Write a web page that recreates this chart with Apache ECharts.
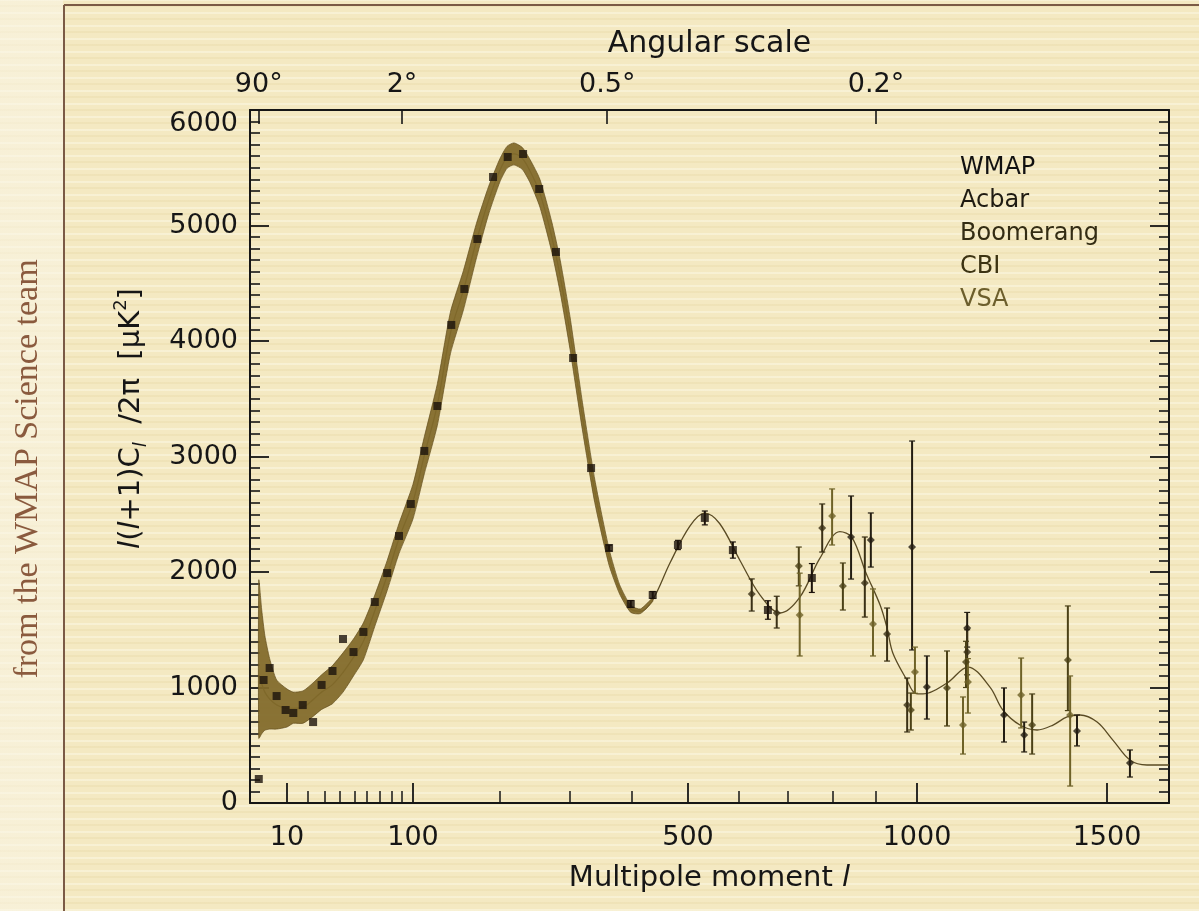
<!DOCTYPE html>
<html><head><meta charset="utf-8">
<script src="https://cdn.jsdelivr.net/npm/echarts@6/dist/echarts.min.js"></script>
<style>
html,body{margin:0;padding:0;width:1199px;height:911px;overflow:hidden;}
body{
 background-color:#f4e9c2;
 background-image:
  linear-gradient(to right, rgba(250,246,232,0.55) 0, rgba(250,246,232,0.55) 63px, transparent 63px),
  repeating-linear-gradient(0deg, rgba(255,255,245,0.35) 0px, rgba(255,255,245,0.35) 2px, transparent 2px, transparent 7px, rgba(215,195,130,0.16) 7px, rgba(215,195,130,0.16) 9px, transparent 9px, transparent 13px);
}
#chart{width:1199px;height:911px;}
</style></head><body><div id="chart"></div><script>
// ---------- data ----------
const majorTickL = [10, 100, 500, 1000, 1500];
const minorTickL = [20, 30, 40, 50, 60, 70, 80, 90, 200, 300, 400, 600, 700, 800, 900];
const angleTickDeg = [90, 2, 0.5, 0.2];
const angleTickLabels = ['90°', '2°', '0.5°', '0.2°'];

// theory curve (multipole l, D_l in uK^2)
const curveL = [2, 2.6, 3.3, 4.5, 6.5, 10, 13, 17.6, 23, 28, 35, 42, 49, 57, 66, 76, 87, 100, 113, 128, 143, 158, 173, 187, 200, 210, 220, 232, 243, 257, 274, 286, 300, 320, 340, 363, 380, 398, 415, 437,
  468, 504, 533, 562, 602, 643, 684, 726, 771, 816, 844, 877, 910, 927, 941, 976, 995, 1016, 1079, 1134, 1192, 1226, 1271, 1316, 1358, 1395, 1429, 1474, 1519, 1574, 1629, 1700];
const curveD = [1100, 1030, 960, 900, 850, 820, 820, 830, 895, 960, 1025, 1130, 1260, 1400, 1665, 1970, 2290, 2610, 3010, 3450, 4069, 4440, 4870, 5220, 5480, 5590, 5620, 5580, 5470, 5280, 4900, 4560, 4069, 3350, 2700, 2130, 1850, 1680, 1660, 1760,
  2080, 2400, 2510, 2420, 2100, 1800, 1645, 1780, 2120, 2350, 2300, 1990, 1714, 1515, 1299, 1060, 952, 944, 1039, 1177, 1004, 805, 675, 632, 675, 745, 762, 701, 545, 372, 329, 329];

// cosmic variance band
const bandL = [2, 2.6, 3.3, 4.5, 6.5, 10, 13, 17.6, 23, 28, 35, 42, 49, 57, 66, 76, 87, 100, 113, 128, 143, 158, 173, 187, 200, 210, 220, 232, 243, 257, 274, 286, 300, 320, 340, 363, 380, 398, 415, 437];
const bandHigh = [1930, 1670, 1450, 1250, 1065, 987, 960, 970, 1040, 1110, 1190, 1300, 1420, 1560, 1800, 2100, 2420, 2760, 3170, 3630, 4250, 4610, 5020, 5340, 5580, 5685, 5715, 5675, 5570, 5400, 5030, 4700, 4210, 3470, 2800, 2200, 1890, 1710, 1680, 1775];
const bandLow = [560, 600, 630, 640, 640, 658, 690, 690, 750, 810, 860, 960, 1100, 1240, 1530, 1840, 2160, 2460, 2850, 3270, 3890, 4270, 4720, 5100, 5380, 5495, 5525, 5485, 5370, 5160, 4770, 4420, 3930, 3230, 2600, 2060, 1810, 1650, 1640, 1745];

// WMAP binned points
const wmapL = [2, 3, 4.5, 6.5, 9.5, 13, 17.5, 23, 28, 35, 42, 49, 57, 66, 76, 87, 98, 113, 128, 144, 159, 174, 192, 211, 233, 256, 280, 305, 334, 363, 398, 437, 482, 533, 588, 659, 753];
const wmapD = [208, 1065, 1169, 926, 805, 779, 848, 701, 1022, 1143, 1420, 1307, 1481, 1740, 1991, 2312, 2589, 3048, 3437, 4139, 4450, 4883, 5420, 5593, 5619, 5316, 4771, 3853, 2900, 2208, 1723, 1801, 2234, 2468, 2190, 1671, 1948];
const wmapErr = [0,0,0,0,0,0,0,0,0,0,0,0,0,0,0,0,0,0,0,0,0,0,0,0,0,0,0,0,0, 25, 30, 30, 40, 60, 70, 80, 125];

// other experiments: l, value, lower, upper
const acbarL = [842, 888, 988, 1026, 1132, 1229, 1282, 1421, 1574];
const acbarD = [2303, 2277, 2216, 1004, 1515, 762, 589, 623, 346];
const acbarLo = [1939, 2043, 1325, 727, 1350, 528, 442, 494, 225];
const acbarHi = [2658, 2511, 3134, 1273, 1650, 996, 701, 762, 459];

const boomL = [626, 677, 776, 874, 927, 976, 1132];
const boomD = [1810, 1645, 2381, 1905, 1463, 848, 1307];
const boomLo = [1662, 1515, 2173, 1610, 1229, 615, 1110];
const boomHi = [1940, 1790, 2589, 2303, 1688, 1082, 1500];

const cbiL = [724, 823, 985, 1079, 1129, 1303, 1397];
const cbiD = [2052, 1879, 805, 996, 1221, 675, 1238];
const cbiLo = [1880, 1671, 632, 667, 1000, 424, 800];
const cbiHi = [2216, 2078, 952, 1316, 1400, 944, 1706];

const vsaL = [726, 798, 893, 995, 1121, 1134, 1274, 1403];
const vsaD = [1628, 2485, 1550, 1134, 675, 1048, 935, 762];
const vsaLo = [1273, 2234, 1273, 950, 424, 779, 650, 147];
const vsaHi = [1990, 2719, 1853, 1350, 918, 1250, 1255, 1100];

// ---------- x scale (custom multipole scale) ----------
const scaleL = [10, 20, 30, 40, 50, 60, 70, 80, 90, 100, 200, 300, 400, 500, 600, 700, 800, 900, 1000, 1500, 1700];
const scaleU = [287, 308, 325, 340, 355, 367, 380, 392, 402, 413, 500, 570, 632, 688, 739, 788, 833, 876, 917, 1107, 1169];
function lToU(l) {
  if (l < 10) return 287 - 11.37 * (Math.pow(10, 0.602) - Math.pow(l, 0.602));
  for (let i = 1; i < scaleL.length; i++) {
    if (l <= scaleL[i]) {
      const t = (l - scaleL[i - 1]) / (scaleL[i] - scaleL[i - 1]);
      return scaleU[i - 1] + t * (scaleU[i] - scaleU[i - 1]);
    }
  }
  const n = scaleL.length - 1;
  return scaleU[n] + (l - scaleL[n]) * (scaleU[n] - scaleU[n - 1]) / (scaleL[n] - scaleL[n - 1]);
}
const X_MIN = 250, X_MAX = 1169;

const majorU = majorTickL.map(lToU);
const minorU = minorTickL.map(lToU);
const angU = angleTickDeg.map(d => lToU(180 / d));
function nearestIdx(arr, v) {
  let b = 0, bd = Infinity;
  arr.forEach((a, i) => { const d = Math.abs(a - v); if (d < bd) { bd = d; b = i; } });
  return b;
}

const FONT = 'DejaVu Sans';
const INK = '#161616';
const colors = {
  WMAP: '#1c130b', Acbar: '#231d12', Boomerang: '#3a3015', CBI: '#4b4117', VSA: '#6e6228'
};

function errSeries(name, L, lo, hi, width) {
  return {
    type: 'custom', name: name, xAxisIndex: 0, yAxisIndex: 0, z: 4,
    data: L.map((l, i) => [lToU(l), (lo[i] + hi[i]) / 2, lo[i], hi[i]]),
    encode: { x: 0, y: 1 },
    renderItem: function (params, api) {
      const x = api.value(0), a = api.value(2), b = api.value(3);
      if (a === b) return null;
      const p1 = api.coord([x, b]), p2 = api.coord([x, a]);
      const w = 3, st = { stroke: colors[name], lineWidth: width };
      return { type: 'group', children: [
        { type: 'line', shape: { x1: p1[0], y1: p1[1], x2: p2[0], y2: p2[1] }, style: st },
        { type: 'line', shape: { x1: p1[0] - w, y1: p1[1], x2: p1[0] + w, y2: p1[1] }, style: { stroke: colors[name], lineWidth: 1.2 } },
        { type: 'line', shape: { x1: p2[0] - w, y1: p2[1], x2: p2[0] + w, y2: p2[1] }, style: { stroke: colors[name], lineWidth: 1.2 } }
      ] };
    }
  };
}
function ptSeries(name, L, D, symbol, size) {
  return {
    type: 'scatter', name: name, xAxisIndex: 0, yAxisIndex: 0, z: 5,
    symbol: symbol, symbolSize: size,
    itemStyle: { color: colors[name] },
    data: L.map((l, i) => [lToU(l), D[i]])
  };
}

const bandSeries = {
  type: 'custom', name: 'band', xAxisIndex: 0, yAxisIndex: 0, z: 3, silent: true,
  data: bandL.map((l, i) => [lToU(l), bandLow[i], bandHigh[i]]),
  encode: { x: 0, y: [1, 2] },
  renderItem: function (params, api) {
    if (params.dataIndex !== 0) return null;
    const pts = [];
    for (let i = 0; i < bandL.length; i++) pts.push(api.coord([lToU(bandL[i]), bandHigh[i]]));
    for (let i = bandL.length - 1; i >= 0; i--) pts.push(api.coord([lToU(bandL[i]), bandLow[i]]));
    return { type: 'polygon', shape: { points: pts, smooth: 0.2 },
      style: { fill: 'rgba(130,106,42,0.94)', stroke: 'rgba(100,80,30,0.9)', lineWidth: 0.8 } };
  }
};

const chart = echarts.init(document.getElementById('chart'), null, { renderer: 'canvas' });
const axisLineStyle = { color: INK, width: 2 };
const option = {
  backgroundColor: 'transparent',
  animation: false,
  grid: { left: 250, right: 1199 - 1169, top: 110, bottom: 911 - 803, containLabel: false },
  xAxis: [
    {
      type: 'value', min: X_MIN, max: X_MAX, position: 'bottom',
      axisLine: { show: true, onZero: false, lineStyle: axisLineStyle },
      axisTick: { show: true, inside: true, length: 20, customValues: majorU, lineStyle: { color: INK, width: 1.8 } },
      axisLabel: { show: true, customValues: majorU, margin: 21, fontSize: 27, fontFamily: FONT, color: INK,
        formatter: v => String(majorTickL[nearestIdx(majorU, v)]) },
      splitLine: { show: false },
      name: 'Multipole moment {i|l}', nameLocation: 'middle', nameGap: 61,
      nameTextStyle: { fontSize: 29, fontFamily: FONT, color: INK,
        rich: { i: { fontSize: 29, fontFamily: FONT, fontStyle: 'italic', color: INK } } }
    },
    {
      type: 'value', min: X_MIN, max: X_MAX, position: 'bottom',
      axisLine: { show: false },
      axisTick: { show: true, inside: true, length: 12, customValues: minorU, lineStyle: { color: INK, width: 1.5 } },
      axisLabel: { show: false },
      splitLine: { show: false }
    },
    {
      type: 'value', min: X_MIN, max: X_MAX, position: 'top',
      axisLine: { show: true, onZero: false, lineStyle: axisLineStyle },
      axisTick: { show: true, inside: true, length: 14, customValues: angU, lineStyle: { color: INK, width: 1.6 } },
      axisLabel: { show: true, customValues: angU, margin: 12, fontSize: 27, fontFamily: FONT, color: INK,
        formatter: v => angleTickLabels[nearestIdx(angU, v)] },
      splitLine: { show: false },
      name: 'Angular scale', nameLocation: 'middle', nameGap: 51,
      nameTextStyle: { fontSize: 30, fontFamily: FONT, color: INK }
    }
  ],
  yAxis: [
    {
      type: 'value', min: 0, max: 6000, interval: 1000, position: 'left',
      axisLine: { show: true, onZero: false, lineStyle: axisLineStyle },
      axisTick: { show: true, inside: true, length: 19, lineStyle: { color: INK, width: 1.8 } },
      minorTick: { show: true, splitNumber: 10, length: 10, lineStyle: { color: INK, width: 1.6 } },
      axisLabel: { fontSize: 27, fontFamily: FONT, color: INK, margin: 12, verticalAlignMaxLabel: 'top',
        formatter: v => String(v) },
      splitLine: { show: false }, minorSplitLine: { show: false },
      name: '{i|l}({i|l}+1)C{sub|l}  /2π  [μK{sup|2}]', nameLocation: 'middle', nameRotate: 90, nameGap: 100,
      nameTextStyle: {
        fontSize: 29, fontFamily: FONT, color: INK, lineHeight: 38, padding: [0, 0, 0, 76],
        rich: {
          i: { fontSize: 29, fontFamily: FONT, fontStyle: 'italic', color: INK, lineHeight: 38 },
          sub: { fontSize: 18, fontFamily: FONT, fontStyle: 'italic', color: INK, lineHeight: 15, verticalAlign: 'bottom' },
          sup: { fontSize: 18, fontFamily: FONT, color: INK, lineHeight: 15, verticalAlign: 'top' }
        }
      }
    },
    {
      type: 'value', min: 0, max: 6000, interval: 1000, position: 'right',
      axisLine: { show: true, onZero: false, lineStyle: axisLineStyle },
      axisTick: { show: true, inside: true, length: 19, lineStyle: { color: INK, width: 1.8 } },
      minorTick: { show: true, splitNumber: 10, length: 10, lineStyle: { color: INK, width: 1.6 } },
      axisLabel: { show: false },
      splitLine: { show: false }, minorSplitLine: { show: false }
    }
  ],
  legend: {
    orient: 'vertical', left: 950, top: 149, icon: 'none', itemWidth: 0, itemHeight: 28, itemGap: 7,
    selectedMode: false,
    textStyle: { fontSize: 24, fontFamily: FONT },
    data: [
      { name: 'WMAP', textStyle: { color: '#111111' } },
      { name: 'Acbar', textStyle: { color: '#1f1b12' } },
      { name: 'Boomerang', textStyle: { color: '#332c13' } },
      { name: 'CBI', textStyle: { color: '#3c3312' } },
      { name: 'VSA', textStyle: { color: '#6c5e2c' } }
    ]
  },
  graphic: [
    { type: 'line', shape: { x1: 64, y1: 5, x2: 1199, y2: 5 }, style: { stroke: '#7b5a45', lineWidth: 2 }, z: 10 },
    { type: 'line', shape: { x1: 64, y1: 5, x2: 64, y2: 911 }, style: { stroke: '#7b5a45', lineWidth: 2 }, z: 10 },
    { type: 'text', x: 28, y: 469, rotation: Math.PI / 2,
      style: { text: 'from the WMAP Science team', font: '34px "Liberation Serif"', fill: '#8a5a3e', align: 'center', verticalAlign: 'middle' } }
  ],
  series: [
    bandSeries,
    { type: 'line', name: 'theory', xAxisIndex: 0, yAxisIndex: 0, z: 2, silent: true,
      symbol: 'none', smooth: 0.35, lineStyle: { width: 1.3, color: '#5a4b24' },
      data: curveL.map((l, i) => [lToU(l), curveD[i]]) },
    errSeries('WMAP', wmapL, wmapD.map((d, i) => d - wmapErr[i]), wmapD.map((d, i) => d + wmapErr[i]), 2),
    errSeries('Acbar', acbarL, acbarLo, acbarHi, 2),
    errSeries('Boomerang', boomL, boomLo, boomHi, 2),
    errSeries('CBI', cbiL, cbiLo, cbiHi, 2),
    errSeries('VSA', vsaL, vsaLo, vsaHi, 2),
    ptSeries('WMAP', wmapL, wmapD, 'rect', 8),
    ptSeries('Acbar', acbarL, acbarD, 'diamond', 8),
    ptSeries('Boomerang', boomL, boomD, 'diamond', 8),
    ptSeries('CBI', cbiL, cbiD, 'diamond', 8),
    ptSeries('VSA', vsaL, vsaD, 'diamond', 8)
  ]
};
chart.setOption(option);
</script></body></html>
